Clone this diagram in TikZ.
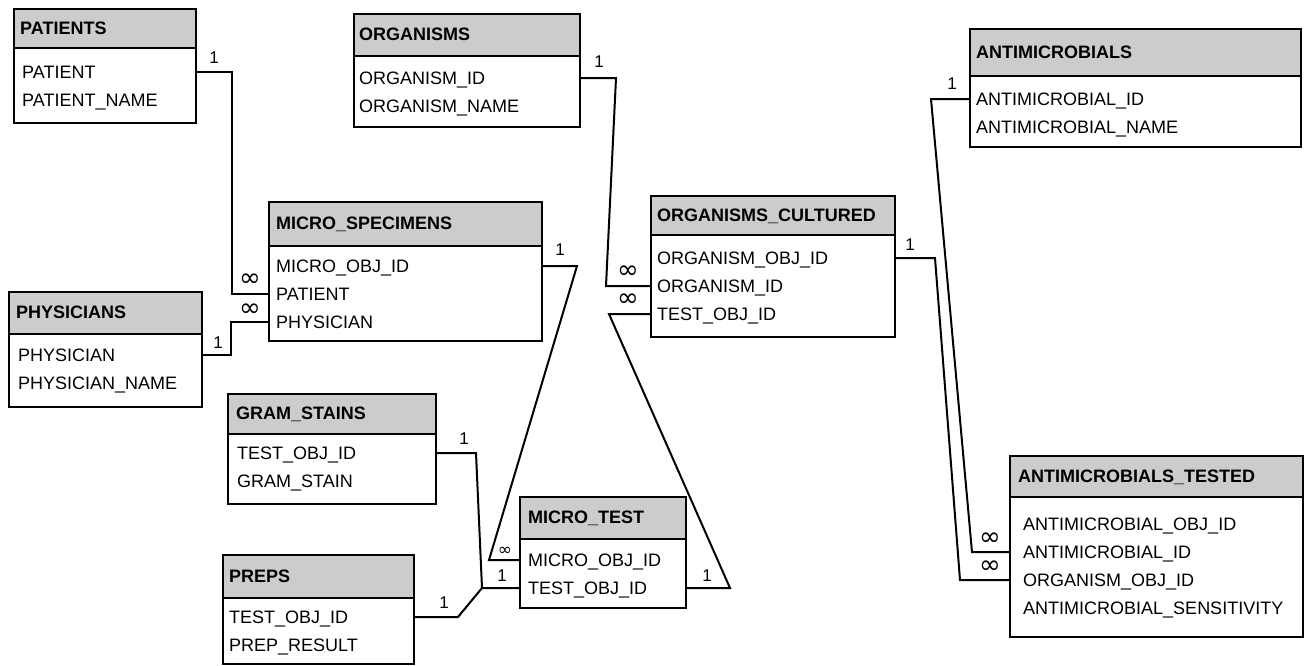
\documentclass[tikz,border=0pt]{standalone}
\usepackage{fontspec}
\setmainfont{Liberation Sans}
\newfontfamily\symfont{DejaVu Sans}
\usetikzlibrary{calc}

\begin{document}
\begin{tikzpicture}[x=1pt,y=-1pt,font=\fontsize{18}{20}\selectfont]
\tikzset{tab/.style={draw,line width=2pt,anchor=north west,inner sep=0pt},
head/.style={tab,fill=black!20},
ttl/.style={anchor=west,inner sep=0pt,font=\fontsize{18}{20}\selectfont\bfseries,text height=13pt,text depth=0pt},
fld/.style={anchor=west,inner sep=0pt,text height=13pt,text depth=0pt},
link/.style={line width=2pt},
one/.style={inner sep=0pt,font=\fontsize{17}{18}\selectfont},
many/.style={inner sep=0pt,font=\symfont\fontsize{26}{26}\selectfont}}
\useasboundingbox (0,0) rectangle (1310,665);
% tables
\node[tab,minimum width=182,minimum height=114] (pat) at (13,8) {};
\node[head,minimum width=182,minimum height=39] (pat-h) at (13,8) {};
\node[ttl] (pat-t) at (20,28) {PATIENTS};
\foreach \f [count=\i] in {PATIENT,PATIENT\_NAME} \node[fld] (pat-\i) at (22,{44+28*\i}) {\f};

\node[tab,minimum width=226,minimum height=113] (org) at (353,13) {};
\node[head,minimum width=226,minimum height=42] (org-h) at (353,13) {};
\node[ttl] (org-t) at (359,34) {ORGANISMS};
\foreach \f [count=\i] in {ORGANISM\_ID,ORGANISM\_NAME} \node[fld] (org-\i) at (359,{50+28*\i}) {\f};

\node[tab,minimum width=331,minimum height=118] (amc) at (969,28) {};
\node[head,minimum width=331,minimum height=47] (amc-h) at (969,28) {};
\node[ttl] (amc-t) at (976,52) {ANTIMICROBIALS};
\foreach \f [count=\i] in {ANTIMICROBIAL\_ID,ANTIMICROBIAL\_NAME} \node[fld] (amc-\i) at (976,{71+28*\i}) {\f};

\node[tab,minimum width=273,minimum height=139] (msp) at (268,201) {};
\node[head,minimum width=273,minimum height=44] (msp-h) at (268,201) {};
\node[ttl] (msp-t) at (276,223) {MICRO\_SPECIMENS};
\foreach \f [count=\i] in {MICRO\_OBJ\_ID,PATIENT,PHYSICIAN} \node[fld] (msp-\i) at (276,{238+28*\i}) {\f};

\node[tab,minimum width=244,minimum height=141] (orc) at (650,195) {};
\node[head,minimum width=244,minimum height=39] (orc-h) at (650,195) {};
\node[ttl] (orc-t) at (657,215) {ORGANISMS\_CULTURED};
\foreach \f [count=\i] in {ORGANISM\_OBJ\_ID,ORGANISM\_ID,TEST\_OBJ\_ID} \node[fld] (orc-\i) at (657,{230+28*\i}) {\f};

\node[tab,minimum width=193,minimum height=115] (phy) at (8,291) {};
\node[head,minimum width=193,minimum height=42] (phy-h) at (8,291) {};
\node[ttl] (phy-t) at (16,312) {PHYSICIANS};
\foreach \f [count=\i] in {PHYSICIAN,PHYSICIAN\_NAME} \node[fld] (phy-\i) at (18,{327+28*\i}) {\f};

\node[tab,minimum width=208,minimum height=110] (grs) at (227,393) {};
\node[head,minimum width=208,minimum height=40] (grs-h) at (227,393) {};
\node[ttl] (grs-t) at (236,413) {GRAM\_STAINS};
\foreach \f [count=\i] in {TEST\_OBJ\_ID,GRAM\_STAIN} \node[fld] (grs-\i) at (237,{425+28*\i}) {\f};

\node[tab,minimum width=191,minimum height=109] (prp) at (222,554) {};
\node[head,minimum width=191,minimum height=43] (prp-h) at (222,554) {};
\node[ttl] (prp-t) at (229,576) {PREPS};
\foreach \f [count=\i] in {TEST\_OBJ\_ID,PREP\_RESULT} \node[fld] (prp-\i) at (229,{589+28*\i}) {\f};

\node[tab,minimum width=166,minimum height=111] (mt) at (519,496) {};
\node[head,minimum width=166,minimum height=42] (mt-h) at (519,496) {};
\node[ttl] (mt-t) at (528,517) {MICRO\_TEST};
\foreach \f [count=\i] in {MICRO\_OBJ\_ID,TEST\_OBJ\_ID} \node[fld] (mt-\i) at (528,{532+28*\i}) {\f};

\node[tab,minimum width=293,minimum height=181] (amt) at (1009,455) {};
\node[head,minimum width=293,minimum height=41] (amt-h) at (1009,455) {};
\node[ttl] (amt-t) at (1018,476) {ANTIMICROBIALS\_TESTED};
\foreach \f [count=\i] in {ANTIMICROBIAL\_OBJ\_ID,ANTIMICROBIAL\_ID,ORGANISM\_OBJ\_ID,ANTIMICROBIAL\_SENSITIVITY}
  \node[fld] (amt-\i) at (1023,{496+28*\i}) {\f};

% relations
\draw[link] (pat.east |- pat-1) -- ++(35,0) |- (msp.west |- msp-2);
\draw[link] (phy.east |- phy-1) -- ++(28,0) |- (msp.west |- msp-3);
\draw[link] (org.east |- org-1) -- ++(35,0) -- ($(orc.west |- orc-2)+(-44,0)$) -- (orc.west |- orc-2);
\draw[link] (msp.east |- msp-1) -- ++(34,0) -- ($(mt.west |- mt-1)+(-30,0)$) -- (mt.west |- mt-1);
\draw[link] (mt.east |- mt-2) -- ++(43,0) -- ($(orc.west |- orc-3)+(-41,0)$) -- (orc.west |- orc-3);
\draw[link] (grs.east |- grs-1) -- ++(39,0) -- ($(mt.west |- mt-2)+(-37,0)$) coordinate (jn) -- (mt.west |- mt-2);
\draw[link] (prp.east |- prp-1) -- ++(43,0) -- (jn);
\draw[link] (amc.west |- amc-1) -- ++(-38,0) -- ($(amt.west |- amt-2)+(-37,0)$) -- (amt.west |- amt-2);
\draw[link] (orc.east |- orc-1) -- ++(39,0) -- ($(amt.west |- amt-3)+(-49,0)$) -- (amt.west |- amt-3);

% cardinalities
\node[one] (pat-c) at ($(pat.east |- pat-1)+(17,-14)$) {1};
\node[many] (msp-c2) at ($(msp.west |- msp-2)+(-18,-14)$) {∞};
\node[one] (phy-c) at ($(phy.east |- phy-1)+(15,-12)$) {1};
\node[many] (msp-c3) at ($(msp.west |- msp-3)+(-18,-12)$) {∞};
\node[one] (org-c) at ($(org.east |- org-1)+(18,-16)$) {1};
\node[many] (orc-c2) at ($(orc.west |- orc-2)+(-22,-14)$) {∞};
\node[one] (msp-c1) at ($(msp.east |- msp-1)+(17,-16)$) {1};
\node[many,font=\symfont\fontsize{17}{17}\selectfont] (mt-c1) at ($(mt.west |- mt-1)+(-14,-9)$) {∞};
\node[one] (mt-c2r) at ($(mt.east |- mt-2)+(20,-12)$) {1};
\node[many] (orc-c3) at ($(orc.west |- orc-3)+(-22,-14)$) {∞};
\node[one] (grs-c) at ($(grs.east |- grs-1)+(27,-14)$) {1};
\node[one] (mt-c2l) at ($(mt.west |- mt-2)+(-17,-12)$) {1};
\node[one] (prp-c) at ($(prp.east |- prp-1)+(29,-14)$) {1};
\node[one] (amc-c) at ($(amc.west |- amc-1)+(-17,-15)$) {1};
\node[many] (amt-c2) at ($(amt.west |- amt-2)+(-19,-13)$) {∞};
\node[one] (orc-c1) at ($(orc.east |- orc-1)+(14,-13)$) {1};
\node[many] (amt-c3) at ($(amt.west |- amt-3)+(-19,-13)$) {∞};
\end{tikzpicture}
\end{document}
